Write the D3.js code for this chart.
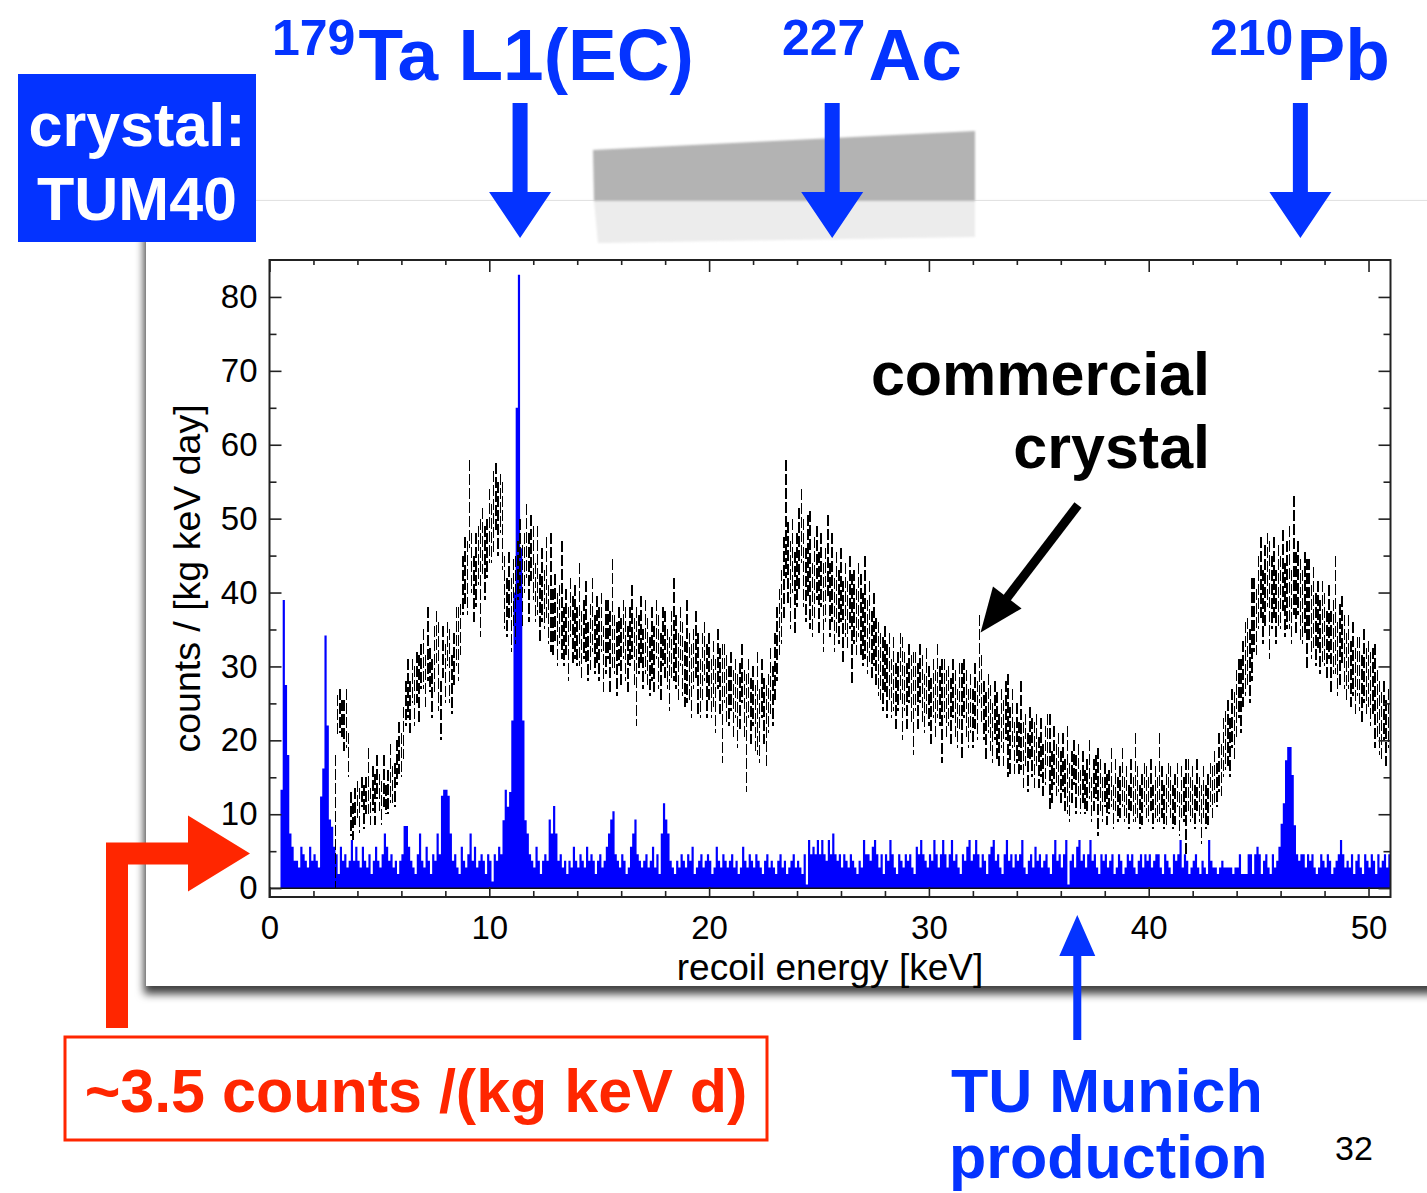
<!DOCTYPE html>
<meta charset="utf-8">
<style>
body { margin: 0; background: #fff; }
svg text { font-family: "Liberation Sans", Arial, Helvetica, sans-serif; }
</style>
<body>
<script src="https://d3js.org/d3.v7.min.js"></script>
<script>

// TUM40 histogram, bins of 0.1 keV starting at 0.5 keV
var tumStart = 0.5;
var tumStep = 0.1;
var tumValues = [
  13.3, 39, 27.5, 18, 7.4,
  5.6, 3.7, 3.7, 2.8, 5.6, 4.6, 3.7, 2.8, 5.6, 3.7,
  4.6, 3.7, 2.8, 12.4, 16.2, 34.2, 22, 9.3, 8.3, 5.6,
  4.6, 1.9, 5.6, 3.7, 4.6, 2.8, 3.7, 6.5, 3.7, 5.6,
  3.7, 2.8, 5.6, 3.7, 2.8, 4.6, 1.9, 3.7, 5.6, 3.7,
  2.8, 4.6, 7.4, 5.6, 3.7, 4.6, 2.8, 3.7, 1.9, 3.7,
  4.6, 8.4, 8.4, 5.6, 3.7, 2.8, 1.9, 4.6, 7.4, 3.7,
  2.8, 5.6, 3.7, 1.9, 4.6, 3.7, 7.4, 4.6, 12.5, 13.3,
  13.3, 12.5, 7.4, 3.7, 4.6, 2.8, 1.9, 5.6, 3.7, 2.8,
  4.6, 7.4, 3.7, 5.6, 2.8, 3.7, 4.6, 3.7, 1.9, 4.6,
  3.7, 0.9, 4.6, 3.7, 5.6, 4.6, 9.2, 13.3, 11, 13,
  22.7, 40, 65, 83, 46, 22.7, 9.2, 7.4, 4.6, 3.7,
  2.8, 5.6, 3.7, 1.9, 3.7, 4.6, 3.7, 9.3, 7.4, 11.1,
  7.4, 3.7, 4.6, 2.8, 3.7, 1.9, 3.7, 2.8, 5.6, 3.7,
  2.8, 4.6, 3.7, 2.8, 5.6, 3.7, 4.6, 3.7, 1.9, 3.7,
  4.6, 2.8, 3.7, 5.6, 7.4, 9.3, 10.4, 4.6, 3.7, 2.8,
  4.6, 3.7, 1.9, 2.8, 5.6, 7.4, 9.3, 4.6, 3.7, 2.8,
  3.7, 4.6, 2.8, 3.7, 5.6, 2.8, 4.6, 1.9, 7.4, 11.5,
  9.3, 7.4, 3.7, 2.8, 1.9, 3.7, 2.8, 4.6, 3.7, 2.8,
  4.6, 3.7, 5.6, 1.9, 2.8, 3.7, 4.6, 2.8, 3.7, 4.6,
  3.7, 1.9, 2.8, 5.6, 3.7, 2.8, 4.6, 3.7, 2.8, 3.7,
  4.6, 2.8, 3.7, 1.9, 2.8, 5.6, 3.7, 2.8, 4.6, 3.7,
  2.8, 4.6, 3.7, 2.8, 1.9, 3.7, 4.6, 2.8, 3.7, 2.8,
  1.9, 3.7, 4.6, 2.8, 3.7, 1.9, 2.8, 3.7, 4.6, 2.8,
  3.7, 2.8, 1.9, 4.6, 0.5, 6.5, 4.6, 5.6, 4.6, 6.5,
  4.6, 6.5, 4.6, 3.7, 6.5, 4.6, 7.4, 4.6, 3.7, 4.6,
  2.8, 4.6, 3.7, 2.8, 4.6, 3.7, 2.8, 1.9, 3.7, 2.8,
  6.5, 4.6, 4.6, 3.7, 5.6, 6.5, 4.6, 2.8, 4.6, 1.9,
  4.6, 3.7, 6.5, 4.6, 2.8, 1.9, 4.6, 3.7, 2.8, 4.6,
  3.7, 4.6, 2.8, 1.9, 5.6, 4.6, 6.5, 4.6, 3.7, 2.8,
  4.6, 3.7, 6.5, 4.6, 2.8, 4.6, 6.5, 4.6, 2.8, 4.6,
  6.5, 3.7, 4.6, 2.8, 1.9, 4.6, 3.7, 5.6, 6.5, 3.7,
  4.6, 6.5, 4.6, 2.8, 4.6, 3.7, 1.9, 4.6, 5.6, 6.5,
  3.7, 4.6, 2.8, 1.9, 4.6, 6.5, 3.7, 4.6, 2.8, 4.6,
  3.7, 4.6, 6.5, 2.8, 1.9, 3.7, 4.6, 2.8, 5.6, 3.7,
  4.6, 2.8, 3.7, 4.6, 2.8, 1.9, 4.6, 6.5, 3.7, 4.6,
  2.8, 4.6, 6.5, 0.5, 3.7, 4.6, 2.8, 5.6, 6.5, 3.7,
  4.6, 2.8, 4.6, 6.5, 3.7, 4.6, 2.8, 1.9, 4.6, 3.7,
  4.6, 2.8, 3.7, 4.6, 1.9, 2.8, 4.6, 3.7, 1.9, 2.8,
  4.6, 3.7, 4.6, 2.8, 1.9, 3.7, 4.6, 2.8, 4.6, 3.7,
  4.6, 2.8, 3.7, 4.6, 4.6, 2.8, 1.9, 4.6, 3.7, 2.8,
  1.9, 4.6, 3.7, 4.6, 6.5, 2.8, 4.6, 3.7, 1.9, 2.8,
  3.7, 4.6, 2.8, 1.9, 3.7, 2.8, 1.9, 6.5, 3.7, 2.8,
  2.8, 1.9, 2.8, 3.7, 2.8, 2.8, 2.8, 2.8, 1.9, 2.8,
  2.8, 4.6, 1.9, 1.9, 1.9, 4.6, 4.6, 1.9, 4.6, 5.6,
  4.6, 1.9, 3.7, 4.6, 2.8, 1.9, 4.6, 2.8, 3.7, 5.6,
  8.7, 11.5, 17.3, 19.1, 19.1, 15.3, 8.5, 4.6, 3.7, 4.6,
  4.6, 2.8, 4.6, 3.7, 4.6, 2.8, 1.9, 2.8, 4.6, 3.7,
  2.8, 4.6, 3.7, 1.9, 2.8, 3.7, 4.6, 6.5, 4.6, 2.8,
  3.7, 2.8, 4.6, 1.9, 3.7, 4.6, 2.8, 1.9, 4.6, 3.7,
  2.8, 4.6, 3.7, 1.9, 4.6, 2.8, 3.7, 4.6, 2.8, 4.6
];

// commercial crystal, points every 0.1 keV starting at 3.0 keV
var commStart = 3.0;
var commStep = 0.1;
var commValues = [
  9, 23.5, 24, 23, 22, 23, 18, 10, 9, 11,
  12, 10.5, 13, 11, 12.5, 14.5, 11, 13.5, 12, 15,
  13, 11.5, 14.5, 12, 13, 15.5, 14, 14, 17, 19,
  18, 21, 25, 27, 24.5, 28, 26, 28.5, 27, 30,
  31, 28, 33, 29.5, 27, 31, 34, 30, 24, 32,
  29, 33, 30, 27.5, 31, 34, 33, 35, 41, 43,
  42, 52, 44, 40.5, 43, 45, 42, 47, 44, 46,
  49, 48, 51, 53, 50, 52, 49, 40, 38, 41,
  37, 40, 39, 43, 45, 41, 44, 47, 42, 46,
  44, 40, 43, 38, 41, 39, 42, 37, 40, 36,
  38, 35, 37, 39, 34, 36, 33, 38, 35, 36,
  34, 37, 33, 35, 36, 32, 34, 37, 33, 35,
  33, 36, 31, 34, 35, 32, 37, 33, 31, 34,
  32, 35, 33, 31, 34, 36, 32, 30, 33, 35,
  31, 34, 32, 30, 33, 31, 35, 32, 30, 34,
  33, 31, 29, 33, 35, 32, 30, 34, 31, 29,
  32, 30, 28, 31, 33, 29, 27, 30, 32, 28,
  30, 27, 29, 26, 31, 28, 25, 29, 27, 26,
  28, 25, 27, 24, 26, 29, 25, 21, 27, 24,
  26, 23, 25, 22, 27, 24, 22, 25, 28, 26,
  30, 33, 36, 38, 42, 50, 44, 41, 45, 40,
  43, 46, 49, 44, 41, 45, 43, 39, 42, 44,
  40, 43, 38, 41, 45, 39, 42, 37, 40, 38,
  41, 36, 39, 37, 40, 35, 38, 36, 39, 37,
  35, 38, 34, 36, 33, 35, 32, 31, 30, 29,
  31, 28, 30, 27, 29, 26, 28, 30, 27, 28,
  26, 29, 27, 25, 28, 26, 29, 27, 25, 28,
  26, 24, 27, 25, 28, 26, 24, 27, 25, 26,
  24, 27, 25, 23, 26, 24, 27, 25, 23, 25,
  23, 26, 24, 31, 27, 24, 22, 25, 23, 21,
  24, 22, 20, 23, 21, 24, 22, 20, 23, 19,
  21, 19, 22, 18, 20, 17, 21, 19, 18, 20,
  17, 19, 16, 18, 20, 17, 15, 18, 16, 17,
  15, 17, 14, 16, 13, 15, 17, 14, 16, 13,
  15, 13, 14, 16, 12, 14, 15, 13, 14, 12,
  14, 12, 13, 15, 11, 14, 12, 13, 15, 12,
  13, 11, 14, 12, 15, 13, 11, 12, 14, 13,
  12, 14, 11, 13, 12, 15, 13, 11, 12, 14,
  13, 11, 12, 14, 10, 13, 12, 11, 14, 12,
  13, 11, 14, 12, 10, 13, 11, 12, 14, 13,
  15, 14, 17, 16, 19, 20, 21, 19, 23, 22,
  25, 27, 26, 29, 31, 32, 30, 35, 37, 36,
  40, 42, 38, 41, 43, 39, 40, 42, 38, 41,
  40, 43, 39, 41, 42, 38, 45, 40, 42, 39,
  38, 40, 37, 39, 36, 38, 35, 37, 34, 36,
  35, 33, 36, 32, 34, 37, 31, 33, 35, 32,
  30, 32, 29, 31, 28, 30, 29, 27, 30, 28,
  29, 27, 28, 26, 25, 23, 22, 24, 21, 23
];
var commErrors = [
  9, 2.7, 3, 2.5, 3.5, 4, 3, 3, 2.5, 2.5,
  2.5, 3, 2, 3, 2.5, 4.5, 2.5, 3, 3.5, 3,
  2.5, 3, 3.5, 2, 3, 4, 2.5, 3, 3, 3.5,
  3, 3.5, 3, 4, 3.5, 3, 4, 3.5, 4.5, 3,
  4, 3.5, 5, 3, 4, 4.5, 3.5, 6, 4, 3.5,
  4, 3, 5, 4, 3.5, 4, 5, 3.5, 4, 4.5,
  5, 6, 4, 4.5, 5, 4, 8, 4.5, 5, 4,
  5, 4, 5.5, 4.5, 5, 4, 6, 5, 4, 4.5,
  5, 4.5, 6, 4, 5, 5.5, 4, 5, 6, 4.5,
  5, 4, 6, 4.5, 5, 4, 5.5, 4, 8, 4.5,
  4.5, 5, 4, 8, 4, 4.5, 5, 4, 4.5, 5,
  4, 7, 4.5, 4, 5.5, 4, 4.5, 5, 4, 4.5,
  5, 4, 4.5, 5, 4, 5.5, 7.5, 4, 5, 4,
  4.5, 4, 5, 4.5, 4, 5, 4.5, 8, 4, 4.5,
  4, 5, 4.5, 4, 5, 4.5, 4, 5, 4.5, 4,
  4.5, 4, 5, 4.5, 7, 5, 4.5, 4, 5, 4.5,
  7, 4.5, 5, 4, 4.5, 5.5, 4, 4.5, 4, 5,
  4.5, 4, 4.5, 5, 4, 4.5, 8, 4, 4.5, 4,
  4, 4.5, 4, 5, 4.5, 4, 4.5, 8, 4, 4.5,
  4, 4.5, 7, 5, 4, 4.5, 5.5, 4, 4.5, 4,
  4.5, 5, 4.5, 5, 5.5, 8, 5.5, 6, 5, 5.5,
  5, 5.5, 5, 6, 5, 5.5, 8, 5, 5.5, 5,
  5.5, 5, 6, 5, 5.5, 5, 6, 5, 5.5, 5,
  5, 5.5, 5, 4.5, 5, 7.5, 5, 4.5, 5, 5.5,
  5, 7, 5, 5.5, 4.5, 5, 4.5, 5, 4.5, 5,
  4.5, 5, 4.5, 4, 5, 4.5, 4, 4.5, 7, 4,
  4.5, 4, 4.5, 7, 4, 4.5, 4, 4.5, 4, 4.5,
  4, 4.5, 4, 4.5, 5, 4, 7, 4, 4.5, 4,
  4.5, 4, 4.5, 4, 4.5, 6.5, 4, 4.5, 4, 4,
  4, 4.5, 4, 6, 4.5, 4, 4.5, 4, 4.5, 4,
  4, 4.5, 3.5, 4, 4.5, 4, 7, 4.5, 4, 3.5,
  4, 3.5, 6, 4.5, 3.5, 4, 3.5, 4, 4.5, 3.5,
  3.5, 4, 3.5, 4, 3.5, 6.5, 3.5, 4, 3.5, 4,
  3.5, 4, 3.5, 6, 4, 3.5, 3, 4, 3.5, 3,
  3.5, 3, 3.5, 4, 3, 3.5, 3, 6, 3.5, 3,
  3, 3.5, 3, 4, 3, 3.5, 3, 3.5, 4, 3,
  3.5, 3, 3.5, 3, 6, 3.5, 3, 3.5, 3, 3.5,
  3, 3.5, 3, 3.5, 3, 6, 3.5, 3, 3.5, 3,
  3.5, 3, 3.5, 3, 3, 3.5, 3, 6.5, 3.5, 3,
  3.5, 3, 3.5, 3, 4, 3.5, 3, 3.5, 3, 3.5,
  3.5, 3, 4, 3.5, 4, 4, 4.5, 4, 4, 4.5,
  4.5, 4, 5, 4.5, 5, 4.5, 5, 7, 5, 4.5,
  5, 5.5, 5, 5.5, 5, 8, 5, 5.5, 5, 5.5,
  5, 5.5, 5, 6, 7, 5, 8, 5.5, 5, 5.5,
  5, 5.5, 7.5, 5.5, 5, 5.5, 5, 4.5, 5, 5.5,
  5, 4.5, 5, 5.5, 5, 8, 5, 5.5, 4.5, 5,
  4.5, 5, 4.5, 5, 4.5, 4, 5, 4.5, 5, 4.5,
  4.5, 5, 4.5, 7, 4.5, 5, 4.5, 4, 4.5, 4
];

// axes
var xTicks = [0, 10, 20, 30, 40, 50];
var xMinorTicks = [2, 4, 6, 8, 12, 14, 16, 18, 22, 24, 26, 28, 32, 34, 36, 38, 42, 44, 46, 48];
var yTicks = [0, 10, 20, 30, 40, 50, 60, 70, 80];
var yMinorTicks = [5, 15, 25, 35, 45, 55, 65, 75];

// peak labels
var peakMass = ["179", "227", "210"];
var peakName = ["Ta L1(EC)", "Ac", "Pb"];
var peakEnergy = [11.4, 25.6, 46.9];
var peakLabelX = [272, 782, 1210];

var blue = "#0433ff";
var red = "#ff2600";

var largeur = 1427;
var hauteur = 1193;

const svg = d3.select("body")
    .append("svg")
    .attr("width", largeur)
    .attr("height", hauteur);

var defs = svg.append("defs");
defs.append("filter")
    .attr("id", "shadow")
    .attr("x", "-5%").attr("y", "-5%")
    .attr("width", "115%").attr("height", "115%")
  .append("feDropShadow")
    .attr("dx", -2).attr("dy", 8)
    .attr("stdDeviation", 4)
    .attr("flood-color", "#000")
    .attr("flood-opacity", 0.75);
defs.append("filter")
    .attr("id", "soft")
  .append("feGaussianBlur")
    .attr("stdDeviation", 1.2);

// echelles
var x = d3.scaleLinear().domain([0, 51]).range([269.5, 1390.5]);
var y = d3.scaleLinear().domain([-1.2, 85]).range([897, 260]);

defs.append("clipPath")
    .attr("id", "plotclip")
  .append("rect")
    .attr("x", x(0))
    .attr("y", y(85))
    .attr("width", x(51) - x(0))
    .attr("height", y(-1.2) - y(85));

// the pasted picture
svg.append("rect")
    .attr("x", 146).attr("y", 200)
    .attr("width", 1320).attr("height", 786)
    .attr("fill", "#fff")
    .attr("filter", "url(#shadow)");
svg.append("line")
    .attr("x1", 146).attr("x2", largeur)
    .attr("y1", 200.5).attr("y2", 200.5)
    .attr("stroke", "#e2e2e2").attr("stroke-width", 1);

// tape
var tape = svg.append("g").attr("filter", "url(#soft)");
tape.append("path")
    .attr("d", "M593,150 L975,131 L975,201 L594,201 Z")
    .attr("fill", "#b3b3b3");
tape.append("path")
    .attr("d", "M594,201 L975,201 L975,237 L598,243 Z")
    .attr("fill", "#ececec");

// blue histogram (TUM40)
var tumData = tumValues.map(function(v, i) { return {e: tumStart + i * tumStep, v: v}; });
tumData.push({e: tumStart + tumValues.length * tumStep, v: tumValues[tumValues.length - 1]});

var area = d3.area()
    .curve(d3.curveStepAfter)
    .x(d => x(d.e))
    .y0(y(0))
    .y1(d => y(d.v));

svg.append("path")
    .datum(tumData)
    .attr("clip-path", "url(#plotclip)")
    .attr("fill", "#0000ff")
    .attr("d", area);

// commercial crystal error bars
svg.append("g")
    .attr("clip-path", "url(#plotclip)")
  .selectAll("line")
  .data(commValues)
  .join("line")
    .attr("x1", (d, i) => x(commStart + i * commStep))
    .attr("x2", (d, i) => x(commStart + i * commStep))
    .attr("y1", (d, i) => y(d + commErrors[i]))
    .attr("y2", (d, i) => y(d - commErrors[i]))
    .attr("stroke", "#000")
    .attr("stroke-width", 1.5)
    .attr("shape-rendering", "crispEdges")
    .attr("stroke-dasharray", "11,3");

// zero line and frame
svg.append("line")
    .attr("x1", x(0)).attr("x2", x(51))
    .attr("y1", y(0)).attr("y2", y(0))
    .attr("stroke", "#111").attr("stroke-width", 1.5);

svg.append("rect")
    .attr("x", x(0)).attr("y", y(85))
    .attr("width", x(51) - x(0))
    .attr("height", y(-1.2) - y(85))
    .attr("fill", "none")
    .attr("stroke", "#222")
    .attr("stroke-width", 2);

function styleAxis(g) {
    g.select(".domain").remove();
    g.selectAll(".tick line").attr("stroke", "#222").attr("stroke-width", 1.6);
    g.attr("font-family", null).attr("font-size", 33);
    g.selectAll("text").attr("fill", "#000");
}

// axe des abscisses
svg.append("g")
    .attr("transform", "translate(0," + y(-1.2) + ")")
    .call(d3.axisBottom(x).tickValues(xTicks).tickSize(-10).tickPadding(19).tickFormat(d3.format("d")))
    .call(styleAxis);
svg.append("g")
    .attr("transform", "translate(0," + y(-1.2) + ")")
    .call(d3.axisBottom(x).tickValues(xMinorTicks).tickSize(-6).tickFormat(""))
    .call(styleAxis);
svg.append("g")
    .attr("transform", "translate(0," + y(85) + ")")
    .call(d3.axisTop(x).tickValues(xTicks).tickSize(-12).tickFormat(""))
    .call(styleAxis);
svg.append("g")
    .attr("transform", "translate(0," + y(85) + ")")
    .call(d3.axisTop(x).tickValues(xMinorTicks).tickSize(-5).tickFormat(""))
    .call(styleAxis);

// axes des ordonnees
svg.append("g")
    .attr("transform", "translate(" + x(0) + ",0)")
    .call(d3.axisLeft(y).tickValues(yTicks).tickSize(-12).tickPadding(12).tickFormat(d3.format("d")))
    .call(styleAxis);
svg.append("g")
    .attr("transform", "translate(" + x(0) + ",0)")
    .call(d3.axisLeft(y).tickValues(yMinorTicks).tickSize(-7).tickFormat(""))
    .call(styleAxis);
svg.append("g")
    .attr("transform", "translate(" + x(51) + ",0)")
    .call(d3.axisRight(y).tickValues(yTicks).tickSize(-12).tickFormat(""))
    .call(styleAxis);
svg.append("g")
    .attr("transform", "translate(" + x(51) + ",0)")
    .call(d3.axisRight(y).tickValues(yMinorTicks).tickSize(-7).tickFormat(""))
    .call(styleAxis);

// axis titles
svg.append("text")
    .attr("x", (x(0) + x(51)) / 2)
    .attr("y", 980)
    .attr("text-anchor", "middle")
    .attr("font-size", 37)
    .text("recoil energy [keV]");
svg.append("text")
    .attr("transform", "translate(200," + (y(85) + y(-1.2)) / 2 + ") rotate(-90)")
    .attr("text-anchor", "middle")
    .attr("font-size", 37.5)
    .text("counts / [kg keV day]");

// crystal label box
svg.append("rect")
    .attr("x", 18).attr("y", 74)
    .attr("width", 238).attr("height", 168)
    .attr("fill", blue);
svg.append("text")
    .attr("x", 137).attr("y", 146)
    .attr("text-anchor", "middle")
    .attr("font-size", 61).attr("font-weight", "bold")
    .attr("fill", "#fff")
    .text("crystal:");
svg.append("text")
    .attr("x", 137).attr("y", 220)
    .attr("text-anchor", "middle")
    .attr("font-size", 61).attr("font-weight", "bold")
    .attr("fill", "#fff")
    .text("TUM40");

// peak labels and arrows
peakName.forEach(function(name, i) {
    var t = svg.append("text")
        .attr("x", peakLabelX[i]).attr("y", 80)
        .attr("font-weight", "bold")
        .attr("fill", blue);
    t.append("tspan")
        .attr("font-size", 50)
        .attr("dy", -25)
        .text(peakMass[i]);
    t.append("tspan")
        .attr("font-size", 73)
        .attr("dy", 25)
        .attr("dx", 3)
        .text(name);

    var cx = x(peakEnergy[i]);
    svg.append("path")
        .attr("d", "M" + (cx - 7.5) + ",103 L" + (cx + 7.5) + ",103 L" + (cx + 7.5) + ",192 L" +
            (cx + 31) + ",192 L" + cx + ",238 L" + (cx - 31) + ",192 L" + (cx - 7.5) + ",192 Z")
        .attr("fill", blue);
});

// commercial crystal label and arrow
svg.append("text")
    .attr("x", 1210).attr("y", 395)
    .attr("text-anchor", "end")
    .attr("font-size", 61).attr("font-weight", "bold")
    .text("commercial");
svg.append("text")
    .attr("x", 1210).attr("y", 468)
    .attr("text-anchor", "end")
    .attr("font-size", 61).attr("font-weight", "bold")
    .text("crystal");

var tipX = x(32.35), tipY = y(34.6);
var tailX = 1078, tailY = 505;
var len = Math.hypot(tipX - tailX, tipY - tailY);
var ux = (tipX - tailX) / len, uy = (tipY - tailY) / len;
var bx = tipX - 44 * ux, by = tipY - 44 * uy;
svg.append("line")
    .attr("x1", tailX).attr("y1", tailY)
    .attr("x2", bx + 4 * ux).attr("y2", by + 4 * uy)
    .attr("stroke", "#000").attr("stroke-width", 9);
svg.append("path")
    .attr("d", "M" + tipX + "," + tipY +
        " L" + (bx - 18 * uy) + "," + (by + 18 * ux) +
        " L" + (bx + 18 * uy) + "," + (by - 18 * ux) + " Z")
    .attr("fill", "#000");

// red arrow and box
var ry = y(4.7);
svg.append("path")
    .attr("d", "M106,1028 L106," + (ry - 11) + " L188," + (ry - 11) + " L188," + (ry - 38) +
        " L250," + ry + " L188," + (ry + 38) + " L188," + (ry + 11) + " L128," + (ry + 11) +
        " L128,1028 Z")
    .attr("fill", red);
svg.append("rect")
    .attr("x", 65).attr("y", 1037)
    .attr("width", 702).attr("height", 103)
    .attr("fill", "#fff")
    .attr("stroke", red).attr("stroke-width", 3);
svg.append("text")
    .attr("x", 416).attr("y", 1112)
    .attr("text-anchor", "middle")
    .attr("font-size", 61).attr("font-weight", "bold")
    .attr("fill", red)
    .text("~3.5 counts /(kg keV d)");

// TU Munich arrow and label
var mx = x(36.75);
svg.append("path")
    .attr("d", "M" + (mx - 4) + ",1040 L" + (mx - 4) + ",956 L" + (mx - 18) + ",956 L" + mx + ",915 L" +
        (mx + 18) + ",956 L" + (mx + 4) + ",956 L" + (mx + 4) + ",1040 Z")
    .attr("fill", blue);
svg.append("text")
    .attr("x", 951).attr("y", 1112)
    .attr("font-size", 61).attr("font-weight", "bold")
    .attr("fill", blue)
    .text("TU Munich");
svg.append("text")
    .attr("x", 949).attr("y", 1178)
    .attr("font-size", 61).attr("font-weight", "bold")
    .attr("fill", blue)
    .text("production");

svg.append("text")
    .attr("x", 1335).attr("y", 1160)
    .attr("font-size", 34)
    .text("32");

</script>
</body>
